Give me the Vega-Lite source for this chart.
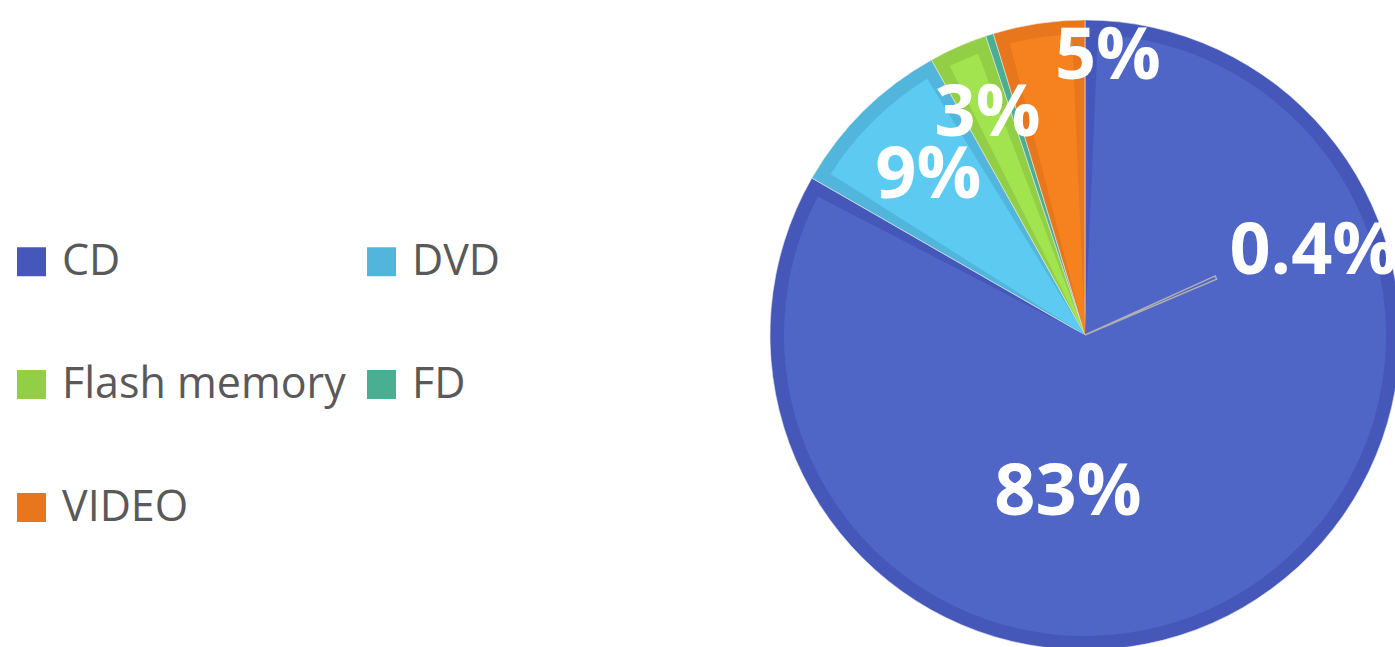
{
  "$schema": "https://vega.github.io/schema/vega-lite/v6.json",
  "autosize": "none",
  "width": 630,
  "height": 630,
  "padding": {"left": 770, "top": 20, "right": 0, "bottom": 0},
  "background": "white",
  "data": {
    "values": [
      {"medium": "CD", "value": 83.3, "label": "83%", "rank": 1},
      {"medium": "DVD", "value": 8.6, "label": "9%", "rank": 2},
      {"medium": "Flash memory", "value": 3.0, "label": "3%", "rank": 3},
      {"medium": "FD", "value": 0.4, "label": "0.4%", "rank": 4},
      {"medium": "VIDEO", "value": 4.7, "label": "5%", "rank": 5}
    ]
  },
  "config": {"view": {"stroke": null}},
  "layer": [
    {
      "mark": {"type": "arc", "stroke": "#e6e6e6", "strokeWidth": 1, "strokeOpacity": 0.6},
      "encoding": {
        "theta": {"field": "value", "type": "quantitative", "stack": true},
        "order": {"field": "rank", "type": "quantitative"},
        "color": {
          "field": "medium",
          "type": "nominal",
          "sort": ["CD", "DVD", "Flash memory", "FD", "VIDEO"],
          "scale": {
            "domain": ["CD", "DVD", "Flash memory", "FD", "VIDEO"],
            "range": ["#4558b9", "#52b6dc", "#92cf46", "#4aae93", "#e8761c"]
          },
          "legend": {
            "title": null,
            "orient": "none",
            "legendX": -760,
            "legendY": 220,
            "columns": 2,
            "direction": "horizontal",
            "symbolType": "square",
            "symbolSize": 841,
            "symbolStrokeWidth": 0,
            "labelFont": "Open Sans",
            "labelFontSize": 43,
            "labelColor": "#595959",
            "labelLimit": 500,
            "labelOffset": 9,
            "rowPadding": 79,
            "columnPadding": 14,
            "padding": 0
          }
        }
      }
    },
    {
      "mark": {"type": "arc", "outerRadius": 301, "padAngle": 0.086},
      "encoding": {
        "theta": {"field": "value", "type": "quantitative", "stack": true},
        "order": {"field": "rank", "type": "quantitative"},
        "color": {
          "field": "medium",
          "type": "nominal",
          "sort": ["CD", "DVD", "Flash memory", "FD", "VIDEO"],
          "scale": {
            "domain": ["CD", "DVD", "Flash memory", "FD", "VIDEO"],
            "range": ["#4f66c7", "#5dcbf1", "#a2e44f", "#4fb99d", "#f5821f"]
          },
          "legend": null
        }
      }
    },
    {
      "mark": {"type": "arc", "filled": false, "stroke": "#b0b0b0", "strokeWidth": 1.5, "outerRadius": 143, "thetaOffset": 1.4654, "theta2Offset": 1.4402},
      "encoding": {
        "theta": {"field": "value", "type": "quantitative", "stack": true},
        "order": {"field": "rank", "type": "quantitative"},
        "strokeOpacity": {"condition": {"test": "datum.medium == 'FD'", "value": 1}, "value": 0}
      }
    },
    {
      "mark": {"type": "text", "radius": 159, "thetaOffset": 0.632, "font": "Open Sans", "fontWeight": "bold", "fontSize": 72, "fill": "white", "align": "center", "baseline": "middle"},
      "encoding": {
        "theta": {"field": "value", "type": "quantitative", "stack": true},
        "order": {"field": "rank", "type": "quantitative"},
        "text": {"condition": {"test": "datum.medium == 'CD'", "field": "label"}, "value": ""}
      }
    },
    {
      "mark": {"type": "text", "radius": 223, "font": "Open Sans", "fontWeight": "bold", "fontSize": 72, "fill": "white", "align": "center", "baseline": "middle"},
      "encoding": {
        "theta": {"field": "value", "type": "quantitative", "stack": true},
        "order": {"field": "rank", "type": "quantitative"},
        "text": {"condition": {"test": "datum.medium == 'DVD'", "field": "label"}, "value": ""}
      }
    },
    {
      "mark": {"type": "text", "radius": 242, "font": "Open Sans", "fontWeight": "bold", "fontSize": 72, "fill": "white", "align": "center", "baseline": "middle"},
      "encoding": {
        "theta": {"field": "value", "type": "quantitative", "stack": true},
        "order": {"field": "rank", "type": "quantitative"},
        "text": {"condition": {"test": "datum.medium == 'Flash memory'", "field": "label"}, "value": ""}
      }
    },
    {
      "mark": {"type": "text", "radius": 243, "thetaOffset": 1.529, "font": "Open Sans", "fontWeight": "bold", "fontSize": 72, "fill": "white", "align": "center", "baseline": "middle"},
      "encoding": {
        "theta": {"field": "value", "type": "quantitative", "stack": true},
        "order": {"field": "rank", "type": "quantitative"},
        "text": {"condition": {"test": "datum.medium == 'FD'", "field": "label"}, "value": ""}
      }
    },
    {
      "mark": {"type": "text", "radius": 279, "thetaOffset": 0.23, "font": "Open Sans", "fontWeight": "bold", "fontSize": 72, "fill": "white", "align": "center", "baseline": "middle"},
      "encoding": {
        "theta": {"field": "value", "type": "quantitative", "stack": true},
        "order": {"field": "rank", "type": "quantitative"},
        "text": {"condition": {"test": "datum.medium == 'VIDEO'", "field": "label"}, "value": ""}
      }
    }
  ],
  "resolve": {"scale": {"color": "independent"}}
}
